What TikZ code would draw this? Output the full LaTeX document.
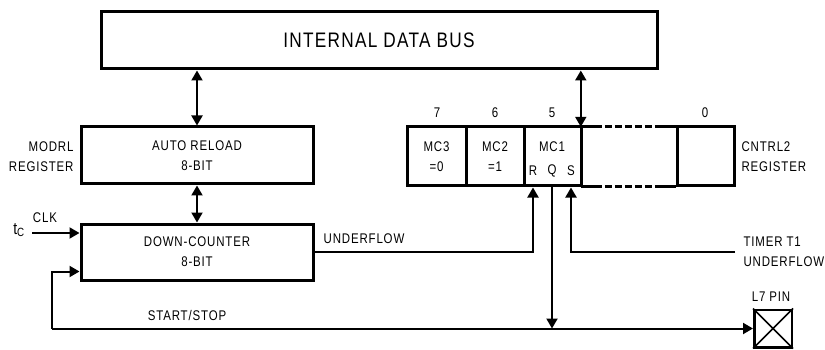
\documentclass[tikz,border=0pt]{standalone}
\usepackage{fontspec}
\newfontfamily\lab[FakeStretch=0.82,LetterSpace=6]{Liberation Sans}
\usetikzlibrary{arrows.meta}

\begin{document}
\begin{tikzpicture}[x=1pt,y=-1pt,
	>={Triangle[length=10pt,width=11pt]},
	every node/.style={font=\lab\fontsize{14}{20}\selectfont, align=center},
	box/.style={draw, line width=3pt, inner sep=0pt, minimum height=57pt},
	cell/.style={draw, line width=3pt, inner sep=0pt, minimum height=59pt},
	wire/.style={line width=2pt}]
	\useasboundingbox (0,0) rectangle (825,350);

	\node[box, minimum width=556pt, font=\lab\fontsize{21}{25}\selectfont] (bus) at (379,40.5) {INTERNAL DATA BUS};
	\node[box, minimum width=232pt] (auto) at (197,155.5) {AUTO RELOAD\\8-BIT};
	\node[box, minimum width=232pt, minimum height=56pt] (down) at (197,252) {DOWN-COUNTER\\8-BIT};
	\node[anchor=east, align=right] (modrl) at (77,157) {MODRL\\REGISTER};

	\node[cell, minimum width=59pt] (mc3) at (436.5,156.5) {MC3\\=0};
	\node[cell, minimum width=58pt] (mc2) at (495,156.5) {MC2\\=1};
	\node[cell, minimum width=57pt] (mc1) at (552.5,156.5) {};
	\node[minimum width=96pt, minimum height=59pt, inner sep=0pt] (gap) at (629,156.5) {};
	\node[cell, minimum width=57pt] (bit0) at (705.5,156.5) {};
	\node (mc1t) at (552,147) {MC1};
	\node (r) at (533,171) {R};
	\node (q) at (552,171) {Q};
	\node (s) at (571,171) {S};
	\node (n7) at (437,113) {7};
	\node (n6) at (495,113) {6};
	\node (n5) at (552,113) {5};
	\node (n0) at (705,113) {0};
	\node[anchor=west, align=left] (cntrl) at (738,157) {CNTRL2\\REGISTER};
	\draw[line width=3pt, dash pattern=on 21pt off 3pt on 7pt off 3pt on 7pt off 3pt on 7pt off 3pt on 7pt off 3pt on 7pt off 3pt on 21pt]
		(gap.north west) -- (gap.north east) (gap.south west) -- (gap.south east);

	\node[font=\lab\fontsize{17}{20}\selectfont] (tc) at (19,230) {t\textsubscript{C}};
	\node (clklab) at (45,218) {CLK};
	\node (uflab) at (364,239) {UNDERFLOW};
	\node (sslab) at (187,315) {START/STOP};
	\node[anchor=west, align=left] (t1) at (740,252) {TIMER T1\\UNDERFLOW};
	\node (l7) at (771,297) {L7 PIN};
	\node[draw, line width=2.5pt, minimum size=37.5pt, inner sep=0pt] (pin) at (773,328.5) {};
	\draw[line width=1.5pt] (pin.north west) -- (pin.south east) (pin.north east) -- (pin.south west);

	\coordinate (clk) at (32,233);
	\coordinate (loop) at (52,328.5);
	\coordinate (timer) at (735,252);

	\draw[wire,<->] (bus.south -| auto) -- (auto);
	\draw[wire,<->] (bus.south -| gap.north west) -- (gap.north west);
	\draw[wire,<->] (auto) -- (down);
	\draw[wire,->] (clk) -- (clk -| down.west);
	\draw[wire,->] (down.east) -| (r |- mc1.south);
	\draw[wire,->] (timer) -| (s |- mc1.south);
	\draw[wire,->] (q |- mc1.south) -- (q |- pin);
	\draw[wire,->] (loop) |- ([yshift=10pt]down.south west);
	\draw[wire,->] (loop) -- (pin);
\end{tikzpicture}
\end{document}
